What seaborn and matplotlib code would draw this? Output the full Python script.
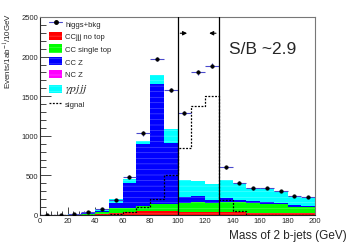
import numpy as np
import pandas as pd
import matplotlib
matplotlib.use("Agg")
import matplotlib.pyplot as plt
import seaborn as sns
from matplotlib.patches import Patch
from matplotlib.lines import Line2D
from matplotlib.ticker import MultipleLocator
import matplotlib.colors as mcolors

# ---------------- data (events / 1ab^-1 / 10 GeV) ----------------
bin_edges = list(range(0, 201, 10))
bin_centers = [5, 15, 25, 35, 45, 55, 65, 75, 85, 95, 105, 115, 125, 135, 145, 155, 165, 175, 185, 195]

ccjjj_notop = [2, 2, 3, 5, 10, 22, 35, 50, 52, 52, 42, 42, 40, 40, 38, 22, 21, 20, 20, 19]
cc_single_top = [2, 2, 2, 5, 32, 66, 57, 60, 93, 93, 110, 118, 112, 125, 122, 130, 118, 119, 85, 78]
cc_z = [1, 1, 1, 10, 6, 64, 308, 783, 1509, 760, 79, 76, 37, 46, 29, 28, 29, 13, 21, 13]
nc_z = [0, 0, 0, 0, 0, 1, 2, 3, 4, 3, 1, 1, 1, 1, 1, 1, 1, 1, 1, 1]
gamma_pjjj = [1, 1, 2, 10, 24, 45, 48, 41, 110, 172, 210, 196, 196, 230, 218, 154, 176, 152, 113, 104]

signal = [1, 1, 1, 1, 2, 10, 35, 97, 205, 510, 846, 1372, 1506, 185, 48, 5, 5, 4, 4, 3]

higgs_bkg = [5, 5, 8, 35, 72, 190, 480, 1030, 1970, 1580, 1285, 1800, 1885, 600, 410, 335, 345, 305, 238, 222]
higgs_bkg_err = [3, 3, 3, 6, 8, 14, 22, 32, 30, 28, 26, 30, 30, 18, 15, 14, 14, 13, 12, 12]

process_names = ["CCjjj no top", "CC single top", "CC Z", "NC Z", r"$\gamma p j j j$"]
process_colors = ["#ff0000", "#00ff00", "#0000ff", "#ff00ff", "#00ffff"]
process_values = [ccjjj_notop, cc_single_top, cc_z, nc_z, gamma_pjjj]

df = pd.DataFrame({
    "mass": np.tile(bin_centers, len(process_names)),
    "events": np.concatenate(process_values),
    "process": np.repeat(process_names, len(bin_centers)),
})

# ---------------- figure ----------------
sns.set_style("ticks")
plt.rcParams["font.family"] = ["Liberation Sans", "DejaVu Sans"]
plt.rcParams["mathtext.fontset"] = "stix"
plt.rcParams["hatch.linewidth"] = 0.35

fig = plt.figure(figsize=(3.54, 2.51), dpi=100)
ax = fig.add_axes([40 / 354, 1 - 216 / 251, 275 / 354, 198 / 251])

palette = dict(zip(process_names, process_colors))
hue_order = process_names[::-1]
sns.histplot(data=df, x="mass", weights="events", hue="process", hue_order=hue_order,
             bins=bin_edges, multiple="stack", palette=palette, alpha=1.0,
             linewidth=0, legend=False, ax=ax)

# ROOT-like fill texture
def lighter(c, f=0.45):
    r = np.array(mcolors.to_rgb(c))
    return tuple(r + (1 - r) * f)

for p in ax.patches:
    fc = p.get_facecolor()
    p.set_hatch("---")
    p.set_edgecolor(lighter(fc[:3], 0.4))
    p.set_linewidth(0)

# signal (dotted, not stacked)
sns.histplot(x=bin_centers, weights=signal, bins=bin_edges, element="step", fill=False,
             color="black", linestyle=(0, (1.5, 1.2)), linewidth=0.9, ax=ax)

# higgs + bkg points
ax.errorbar(bin_centers, higgs_bkg, xerr=5, yerr=higgs_bkg_err, fmt="none",
            ecolor="#4a4acc", elinewidth=0.8, capsize=0, zorder=5)
sns.scatterplot(x=bin_centers, y=higgs_bkg, color="black", s=7, edgecolor="black",
                linewidth=0.3, zorder=6, ax=ax)

# mass window
ax.axvline(100, color="black", lw=0.9, zorder=7)
ax.axvline(130, color="black", lw=0.9, zorder=7)
ax.annotate("", xy=(109, 2295), xytext=(100, 2295),
            arrowprops=dict(arrowstyle="-|>", color="black", lw=0.8, mutation_scale=6))
ax.annotate("", xy=(121, 2295), xytext=(130, 2295),
            arrowprops=dict(arrowstyle="-|>", color="black", lw=0.8, mutation_scale=6))
ax.text(137.5, 2108, "S/B ~2.9", fontsize=12.5, va="center", ha="left")

# axes
ax.set_xlim(0, 200)
ax.set_ylim(0, 2500)
ax.xaxis.set_major_locator(MultipleLocator(20))
ax.xaxis.set_minor_locator(MultipleLocator(4))
ax.yaxis.set_major_locator(MultipleLocator(500))
ax.yaxis.set_minor_locator(MultipleLocator(100))
ax.tick_params(axis="both", which="both", direction="in", labelsize=5.5, pad=1.5, width=0.6)
ax.tick_params(axis="y", which="major", length=8)
ax.tick_params(axis="y", which="minor", length=4)
ax.tick_params(axis="x", which="major", length=6)
ax.tick_params(axis="x", which="minor", length=3)
for s in ["top", "right"]:
    ax.spines[s].set_visible(True)
    ax.spines[s].set_color("#777777")
    ax.spines[s].set_linewidth(0.8)
for s in ["left", "bottom"]:
    ax.spines[s].set_linewidth(0.8)

ax.set_xlabel("Mass of 2 b-jets (GeV)", fontsize=8.5)
ax.xaxis.set_label_coords(1.116, -0.07)
ax.xaxis.label.set_ha("right")
ax.set_ylabel(r"Events/1ab$^{-1}$/10GeV", fontsize=5.8, loc="top")
ax.yaxis.set_label_coords(-0.096, 1.025)

# legend
handles = [Line2D([], [], color="#4a4acc", lw=0.8, marker="o", ms=2.5, mfc="black", mec="black")]
for name, col in zip(process_names, process_colors):
    handles.append(Patch(facecolor=col, edgecolor=lighter(col, 0.4), hatch="---", linewidth=0))
handles.append(Line2D([], [], color="black", lw=0.9, linestyle=(0, (1.5, 1.2))))
labels = ["higgs+bkg"] + process_names + ["signal"]
leg = ax.legend(handles, labels, loc="upper left", bbox_to_anchor=(0.033, 0.99),
                frameon=False, fontsize=5.5, handlelength=1.7, handleheight=1.3,
                handletextpad=0.4, labelspacing=0.52, borderpad=0, borderaxespad=0)
leg.get_texts()[5].set_fontsize(8.5)

fig.savefig("out.png", dpi=100)
